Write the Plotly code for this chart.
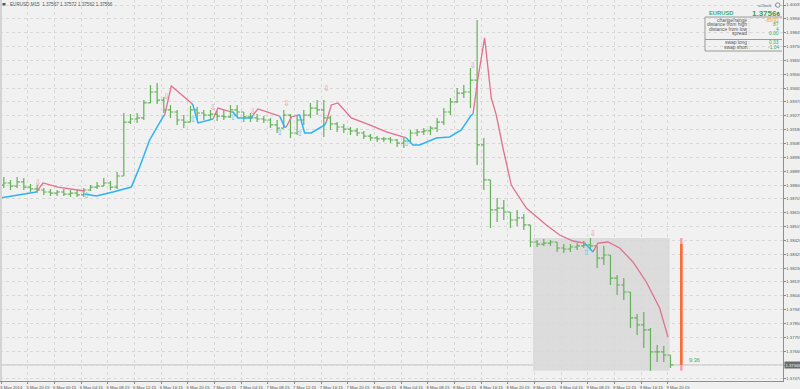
import plotly.graph_objects as go
import pandas as pd

# ---------------- data (EURUSD; hourly aggregation of M15 bars) ----------------
bar_start = "2014-05-05 16:15"
open_ = [1.38800, 1.38814, 1.38793, 1.38821, 1.38786, 1.38773, 1.38766, 1.38752, 1.38745, 1.38752,
         1.38738, 1.38745, 1.38732, 1.38766, 1.38786, 1.38793, 1.38814, 1.38786, 1.38862, 1.39232,
         1.39253, 1.39260, 1.39363, 1.39438, 1.39383, 1.39315, 1.39301, 1.39246, 1.39232, 1.39315,
         1.39294, 1.39280, 1.39287, 1.39273, 1.39267, 1.39315, 1.39301, 1.39267, 1.39260, 1.39253,
         1.39246, 1.39212, 1.39191, 1.39280, 1.39157, 1.39246, 1.39280, 1.39328, 1.39315, 1.39260,
         1.39219, 1.39198, 1.39184, 1.39171, 1.39157, 1.39136, 1.39123, 1.39116, 1.39116, 1.39109,
         1.39088, 1.39102, 1.39157, 1.39164, 1.39171, 1.39191, 1.39232, 1.39301, 1.39370, 1.39431,
         1.39438, 1.39520, 1.39075, 1.38835, 1.38629, 1.38642, 1.38615, 1.38560, 1.38574, 1.38526,
         1.38409, 1.38395, 1.38402, 1.38409, 1.38368, 1.38361, 1.38375, 1.38382, 1.38389, 1.38382,
         1.38299, 1.38320, 1.38162, 1.38114, 1.38066, 1.37888, 1.37840, 1.37806, 1.37655, 1.37655,
         1.37634]
high = [1.38855, 1.38835, 1.38855, 1.38848, 1.38807, 1.38800, 1.38780, 1.38773, 1.38766, 1.38773,
        1.38766, 1.38766, 1.38780, 1.38800, 1.38821, 1.38848, 1.38828, 1.38889, 1.39294, 1.39287,
        1.39294, 1.39383, 1.39486, 1.39500, 1.39404, 1.39349, 1.39315, 1.39280, 1.39342, 1.39335,
        1.39315, 1.39315, 1.39308, 1.39315, 1.39349, 1.39349, 1.39301, 1.39294, 1.39287, 1.39273,
        1.39260, 1.39246, 1.39315, 1.39287, 1.39280, 1.39315, 1.39363, 1.39383, 1.39383, 1.39273,
        1.39232, 1.39219, 1.39198, 1.39191, 1.39171, 1.39150, 1.39136, 1.39130, 1.39130, 1.39116,
        1.39123, 1.39178, 1.39184, 1.39191, 1.39205, 1.39260, 1.39328, 1.39397, 1.39466, 1.39486,
        1.39603, 1.39932, 1.39123, 1.38835, 1.38711, 1.38697, 1.38615, 1.38629, 1.38601, 1.38526,
        1.38423, 1.38430, 1.38423, 1.38409, 1.38395, 1.38395, 1.38402, 1.38416, 1.38436, 1.38382,
        1.38382, 1.38320, 1.38183, 1.38162, 1.38066, 1.37915, 1.37929, 1.37819, 1.37703, 1.37696,
        1.37634]
low = [1.38780, 1.38766, 1.38780, 1.38766, 1.38752, 1.38745, 1.38732, 1.38725, 1.38725, 1.38725,
       1.38718, 1.38718, 1.38718, 1.38759, 1.38773, 1.38793, 1.38766, 1.38773, 1.38862, 1.39219,
       1.39226, 1.39246, 1.39363, 1.39356, 1.39294, 1.39260, 1.39212, 1.39191, 1.39232, 1.39246,
       1.39246, 1.39246, 1.39239, 1.39246, 1.39260, 1.39267, 1.39232, 1.39232, 1.39232, 1.39226,
       1.39191, 1.39157, 1.39191, 1.39123, 1.39143, 1.39212, 1.39260, 1.39280, 1.39130, 1.39178,
       1.39164, 1.39157, 1.39143, 1.39136, 1.39116, 1.39102, 1.39095, 1.39095, 1.39088, 1.39061,
       1.39054, 1.39095, 1.39136, 1.39143, 1.39143, 1.39164, 1.39212, 1.39280, 1.39363, 1.39397,
       1.39328, 1.38937, 1.38766, 1.38505, 1.38546, 1.38560, 1.38505, 1.38519, 1.38492, 1.38375,
       1.38375, 1.38382, 1.38382, 1.38341, 1.38334, 1.38341, 1.38354, 1.38368, 1.38354, 1.38231,
       1.38251, 1.38114, 1.38046, 1.38011, 1.37819, 1.37771, 1.37682, 1.37526, 1.37586, 1.37586,
       1.37545]
close = [1.38814, 1.38793, 1.38821, 1.38786, 1.38773, 1.38766, 1.38752, 1.38745, 1.38752, 1.38738,
         1.38745, 1.38732, 1.38766, 1.38786, 1.38793, 1.38814, 1.38786, 1.38862, 1.39232, 1.39253,
         1.39260, 1.39363, 1.39438, 1.39383, 1.39315, 1.39301, 1.39246, 1.39232, 1.39315, 1.39294,
         1.39280, 1.39287, 1.39273, 1.39267, 1.39315, 1.39301, 1.39267, 1.39260, 1.39253, 1.39246,
         1.39212, 1.39191, 1.39280, 1.39157, 1.39246, 1.39280, 1.39328, 1.39315, 1.39260, 1.39219,
         1.39198, 1.39184, 1.39171, 1.39157, 1.39136, 1.39123, 1.39116, 1.39116, 1.39109, 1.39088,
         1.39102, 1.39157, 1.39164, 1.39171, 1.39191, 1.39232, 1.39301, 1.39370, 1.39431, 1.39438,
         1.39520, 1.39075, 1.38835, 1.38629, 1.38642, 1.38615, 1.38560, 1.38574, 1.38526, 1.38409,
         1.38395, 1.38402, 1.38409, 1.38368, 1.38361, 1.38375, 1.38382, 1.38389, 1.38382, 1.38299,
         1.38320, 1.38162, 1.38114, 1.38066, 1.37888, 1.37840, 1.37806, 1.37655, 1.37655, 1.37634,
         1.37566]

# trailing resistance (pink) and support (blue) lines, None = line break
res_time = ["2014-05-05 21:30", "2014-05-05 22:30", "2014-05-06 00:45", "2014-05-06 04:45", None,
            "2014-05-06 16:45", "2014-05-06 17:45", "2014-05-06 20:45", None,
            "2014-05-07 00:00", "2014-05-07 00:45", "2014-05-07 02:45", None,
            "2014-05-07 06:00", "2014-05-07 06:45", "2014-05-07 10:00", None,
            "2014-05-07 11:00", "2014-05-07 11:45", "2014-05-07 12:45", None,
            "2014-05-07 17:00", "2014-05-07 17:45", "2014-05-07 18:45", "2014-05-07 20:45",
            "2014-05-07 23:30", "2014-05-08 02:00", "2014-05-08 05:00", None,
            "2014-05-08 15:00", "2014-05-08 15:45", "2014-05-08 16:45", "2014-05-08 17:45",
            "2014-05-08 18:30", "2014-05-08 19:30", "2014-05-08 20:45", "2014-05-08 23:00",
            "2014-05-09 02:00", "2014-05-09 04:00", "2014-05-09 06:00", "2014-05-09 07:45", None,
            "2014-05-09 09:00", "2014-05-09 09:45", "2014-05-09 11:15", "2014-05-09 13:00",
            "2014-05-09 15:00", "2014-05-09 17:00", "2014-05-09 19:00", "2014-05-09 20:15"]
res_price = [1.38752, 1.38814, 1.38786, 1.38759, None,
             1.39280, 1.39479, 1.39363, None,
             1.39253, 1.39328, 1.39301, None,
             1.39280, 1.39322, 1.39273, None,
             1.39198, 1.39267, 1.39280, None,
             1.39232, 1.39349, 1.39363, 1.39260, 1.39212, 1.39164, 1.39123, None,
             1.39287, 1.39534, 1.39809, 1.39397, 1.39280, 1.39054, 1.38800, 1.38642,
             1.38526, 1.38457, 1.38416, 1.38402, None,
             1.38341, 1.38402, 1.38409, 1.38368, 1.38272, 1.38135, 1.37956, 1.37757]

sup_time = ["2014-05-05 16:00", "2014-05-05 21:30", None,
            "2014-05-06 04:45", "2014-05-06 06:30", "2014-05-06 09:00", "2014-05-06 11:45",
            "2014-05-06 13:00", "2014-05-06 14:30", "2014-05-06 16:30", "2014-05-06 16:45", None,
            "2014-05-06 20:45", "2014-05-06 21:00", "2014-05-06 21:45", "2014-05-06 23:45",
            "2014-05-07 00:00", None,
            "2014-05-07 02:45", "2014-05-07 03:00", "2014-05-07 03:45", "2014-05-07 05:45",
            "2014-05-07 06:00", None,
            "2014-05-07 10:00", "2014-05-07 10:45", "2014-05-07 11:00", None,
            "2014-05-07 12:45", "2014-05-07 13:00", "2014-05-07 13:45", "2014-05-07 14:45",
            "2014-05-07 16:45", "2014-05-07 17:00", None,
            "2014-05-08 05:00", "2014-05-08 06:00", "2014-05-08 07:00", "2014-05-08 09:30",
            "2014-05-08 11:30", "2014-05-08 13:15", "2014-05-08 14:45", "2014-05-08 15:00", None,
            "2014-05-09 07:45", "2014-05-09 09:00"]
sup_price = [1.38711, 1.38752, None,
             1.38738, 1.38725, 1.38752, 1.38786, 1.38924, 1.39109, 1.39267, 1.39280, None,
             1.39363, 1.39349, 1.39226, 1.39246, 1.39253, None,
             1.39301, 1.39301, 1.39260, 1.39260, 1.39280, None,
             1.39273, 1.39198, 1.39198, None,
             1.39280, 1.39280, 1.39157, 1.39157, 1.39212, 1.39232, None,
             1.39123, 1.39075, 1.39075, 1.39123, 1.39130, 1.39178, 1.39280, 1.39287, None,
             1.38402, 1.38341]

sell_time = ["2014-05-05 21:45", "2014-05-06 17:00", "2014-05-07 00:00", "2014-05-07 06:00",
             "2014-05-07 11:00", "2014-05-07 17:00", "2014-05-08 15:00", "2014-05-09 09:00"]
sell_price = [1.38814, 1.39404, 1.39328, 1.39301, 1.39356, 1.39459, 1.39617, 1.38464]
buy_time = ["2014-05-06 05:00", "2014-05-06 21:00", "2014-05-07 03:00", "2014-05-07 10:00",
            "2014-05-07 13:00", "2014-05-08 05:00", "2014-05-09 08:00"]
buy_price = [1.38725, 1.39246, 1.39260, 1.39157, 1.39150, 1.39082, 1.38334]

# daily statistics (9 May)
day_start = "2014-05-09 00:00"
last_bar = "2014-05-09 20:30"
day_candle_time = "2014-05-09 22:15"
day_open, day_high, day_low, last = 1.38396, 1.38436, 1.37526, 1.37566
timer_text = "9:36"

panel_labels = ["change/range :", "distance from high :", "distance from low :", "spread :",
                "swap long :", "swap short :"]
panel_values = ["-83/92", "87", "4", "0.00", "0.33", "-1.04"]

x_tick_time = ["2014-05-05 16:15", "2014-05-05 20:15", "2014-05-06 00:15", "2014-05-06 04:15",
               "2014-05-06 08:15", "2014-05-06 12:15", "2014-05-06 16:15", "2014-05-06 20:15",
               "2014-05-07 00:15", "2014-05-07 04:15", "2014-05-07 08:15", "2014-05-07 12:15",
               "2014-05-07 16:15", "2014-05-07 20:15", "2014-05-08 00:15", "2014-05-08 04:15",
               "2014-05-08 08:15", "2014-05-08 12:15", "2014-05-08 16:15", "2014-05-08 20:15",
               "2014-05-09 00:15", "2014-05-09 04:15", "2014-05-09 08:15", "2014-05-09 12:15",
               "2014-05-09 16:15", "2014-05-09 20:15"]
x_tick_text = ["5 May 2014", "5 May 20:15", "6 May 00:15", "6 May 04:15", "6 May 08:15",
               "6 May 12:15", "6 May 16:15", "6 May 20:15", "7 May 00:15", "7 May 04:15",
               "7 May 08:15", "7 May 12:15", "7 May 16:15", "7 May 20:15", "8 May 00:15",
               "8 May 04:15", "8 May 08:15", "8 May 12:15", "8 May 16:15", "8 May 20:15",
               "9 May 00:15", "9 May 04:15", "9 May 08:15", "9 May 12:15", "9 May 16:15",
               "9 May 20:15"]
y_ticks = [1.37470, 1.37565, 1.37660, 1.37755, 1.37850, 1.37945, 1.38040, 1.38135, 1.38230,
           1.38325, 1.38420, 1.38515, 1.38610, 1.38705, 1.38800, 1.38895, 1.38990, 1.39085,
           1.39180, 1.39275, 1.39370, 1.39465, 1.39560, 1.39655, 1.39750, 1.39845, 1.39940,
           1.40035]
# the 1.37565 level is covered by the current-price label
y_tick_text = ["" if abs(v - 1.37565) < 1e-7 else "%.5f" % v for v in y_ticks]

# ---------------- styling ----------------
W, H = 800, 389
ML, MR, MT, MB = 0, 17, 0, 8
PW, PH = W - ML - MR, H - MT - MB
GREEN = "#63b158"
PINK = "#e2708f"
BLUE = "#2db4ef"
ORANGE = "#ff6a2b"
TXT = "#555555"
FONT = "Liberation Sans, Arial, sans-serif"
TICKFONT = 4.2


def px(x):
    return (x - ML) / PW


def py(y):
    return 1 - (y - MT) / PH


bar_time = pd.date_range(bar_start, periods=len(close), freq="h")
bar_x = bar_time + pd.Timedelta(minutes=22.5)

fig = go.Figure()
fig.add_trace(go.Ohlc(
    x=bar_x, open=open_, high=high, low=low, close=close,
    increasing=dict(line=dict(color=GREEN, width=1.2)),
    decreasing=dict(line=dict(color=GREEN, width=1.2)),
    tickwidth=0.42, hoverinfo="skip", showlegend=False))

fig.add_trace(go.Scatter(x=res_time, y=res_price, mode="lines", connectgaps=False,
                         line=dict(color=PINK, width=1.3), hoverinfo="skip", showlegend=False))
fig.add_trace(go.Scatter(x=sup_time, y=sup_price, mode="lines", connectgaps=False,
                         line=dict(color=BLUE, width=1.5), hoverinfo="skip", showlegend=False))
fig.add_trace(go.Scatter(x=sell_time, y=sell_price, mode="text", text=["⇩"] * len(sell_time),
                         textfont=dict(color="#ee8fa6", size=8, family="DejaVu Sans"),
                         hoverinfo="skip", showlegend=False))
fig.add_trace(go.Scatter(x=buy_time, y=buy_price, mode="text", text=["⇧"] * len(buy_time),
                         textfont=dict(color="#54c3f2", size=8, family="DejaVu Sans"),
                         hoverinfo="skip", showlegend=False))
# daily candle (wick pink, body orange)
fig.add_trace(go.Scatter(x=[day_candle_time, day_candle_time], y=[day_low, day_high], mode="lines",
                         line=dict(color="#f4a0b0", width=2.5), hoverinfo="skip", showlegend=False))
fig.add_trace(go.Scatter(x=[day_candle_time, day_candle_time], y=[day_open, last], mode="lines",
                         line=dict(color=ORANGE, width=2.5), hoverinfo="skip", showlegend=False))

shapes = [
    dict(type="rect", xref="x", yref="y", x0=day_start, x1=last_bar, y0=day_low, y1=day_high,
         fillcolor="#dcdcdc", line=dict(width=0), layer="below"),
    dict(type="line", xref="paper", yref="y", x0=0, x1=1, y0=last, y1=last,
         line=dict(color="#c4c4c4", width=1), layer="below"),
    dict(type="rect", xref="paper", yref="paper", x0=0, x1=px(2), y0=0, y1=1,
         fillcolor="#d4d4d4", line=dict(width=0)),
    # info panel frame
    dict(type="line", xref="paper", yref="paper", x0=px(705), x1=px(782), y0=py(17), y1=py(17),
         line=dict(color="#9a9a9a", width=1)),
    dict(type="line", xref="paper", yref="paper", x0=px(705), x1=px(782), y0=py(39.5), y1=py(39.5),
         line=dict(color="#9a9a9a", width=1)),
    dict(type="line", xref="paper", yref="paper", x0=px(705), x1=px(782), y0=py(51), y1=py(51),
         line=dict(color="#9a9a9a", width=1)),
    dict(type="line", xref="paper", yref="paper", x0=px(705), x1=px(705), y0=py(17), y1=py(51),
         line=dict(color="#9a9a9a", width=1)),
    dict(type="circle", xref="paper", yref="paper", x0=px(775.5), x1=px(780), y0=py(2.8), y1=py(7.3),
         line=dict(color="#777777", width=0.8)),
    dict(type="rect", xref="paper", yref="paper", x0=px(2.5), x1=px(5.5), y0=py(3), y1=py(5.5),
         fillcolor="#555555", line=dict(width=0)),
]

ann = []
ann.append(dict(xref="paper", yref="paper", x=px(8), y=py(4.3), xanchor="left", yanchor="middle",
                text="EURUSD,M15  1.37567 1.37572 1.37562 1.37566", showarrow=False,
                font=dict(size=4.6, color=TXT, family=FONT)))
ann.append(dict(xref="paper", yref="paper", x=px(774), y=py(5), xanchor="right", yanchor="middle",
                text="aClock", showarrow=False, font=dict(size=4.4, color="#666666", family=FONT)))
ann.append(dict(xref="paper", yref="paper", x=px(707), y=py(13), xanchor="left", yanchor="middle",
                text="<b>EURUSD</b>", showarrow=False, font=dict(size=5.8, color="#3aae72", family=FONT)))
ann.append(dict(xref="paper", yref="paper", x=px(782), y=py(13), xanchor="right", yanchor="middle",
                text="<b>1.3756</b><b><span style='font-size:6px;color:#2a6e40'>6</span></b>",
                showarrow=False, font=dict(size=8, color="#35a35c", family=FONT)))
label_y = [20.7, 24.8, 29.0, 33.2, 42.6, 47.2]
val_colors = ["#f5a030", "#3aae60", "#3aae60", "#3aae60", "#3aae60", "#3aae60"]
for lab, val, yy, col in zip(panel_labels, panel_values, label_y, val_colors):
    ann.append(dict(xref="paper", yref="paper", x=px(752), y=py(yy), xanchor="right",
                    yanchor="middle", text=lab, showarrow=False,
                    font=dict(size=4.9, color="#555555", family=FONT)))
    ann.append(dict(xref="paper", yref="paper", x=px(781), y=py(yy), xanchor="right",
                    yanchor="middle", text=val, showarrow=False,
                    font=dict(size=4.9, color=col, family=FONT)))
# current price label on the price scale
ann.append(dict(xref="paper", yref="y", x=1, y=last, xanchor="left", yanchor="middle",
                xshift=1, text="%.5f" % last, showarrow=False, bgcolor="#6b6b6b", borderpad=0.5,
                font=dict(size=TICKFONT, color="#f0f0f0", family=FONT)))
# timer next to the daily candle
ann.append(dict(xref="x", yref="y", x=day_candle_time, y=last, xanchor="left", yanchor="bottom",
                xshift=6, yshift=0, text=timer_text, showarrow=False,
                font=dict(size=5.6, color="#3aae60", family=FONT)))

fig.update_layout(
    width=W, height=H, margin=dict(l=ML, r=MR, t=MT, b=MB),
    paper_bgcolor="#f0f0f0", plot_bgcolor="#f1f1f1",
    showlegend=False, shapes=shapes, annotations=ann,
    font=dict(family=FONT, color=TXT),
)
fig.update_xaxes(
    type="date", range=["2014-05-05 16:03:18", "2014-05-10 13:30:18"],
    rangeslider=dict(visible=False),
    tickvals=x_tick_time, ticktext=x_tick_text, tickfont=dict(size=TICKFONT, color=TXT),
    tickangle=0, automargin=False,
    ticks="outside", ticklen=1.5, tickcolor="#888888", ticklabelshift=10, ticklabelstandoff=0,
    showgrid=True, gridcolor="#d8d8d8", griddash="dot", gridwidth=1,
    showline=True, linecolor="#8f8f8f", linewidth=1, zeroline=False, fixedrange=True,
)
fig.update_yaxes(
    range=[1.374556, 1.400693], side="right", automargin=False,
    tickvals=y_ticks, ticktext=y_tick_text, tickfont=dict(size=TICKFONT, color=TXT),
    ticks="outside", ticklen=1.5, tickcolor="#888888", ticklabelstandoff=0,
    showgrid=True, gridcolor="#d8d8d8", griddash="dot", gridwidth=1,
    showline=True, linecolor="#8f8f8f", linewidth=1, zeroline=False, fixedrange=True,
)

fig.write_html("out.html")
